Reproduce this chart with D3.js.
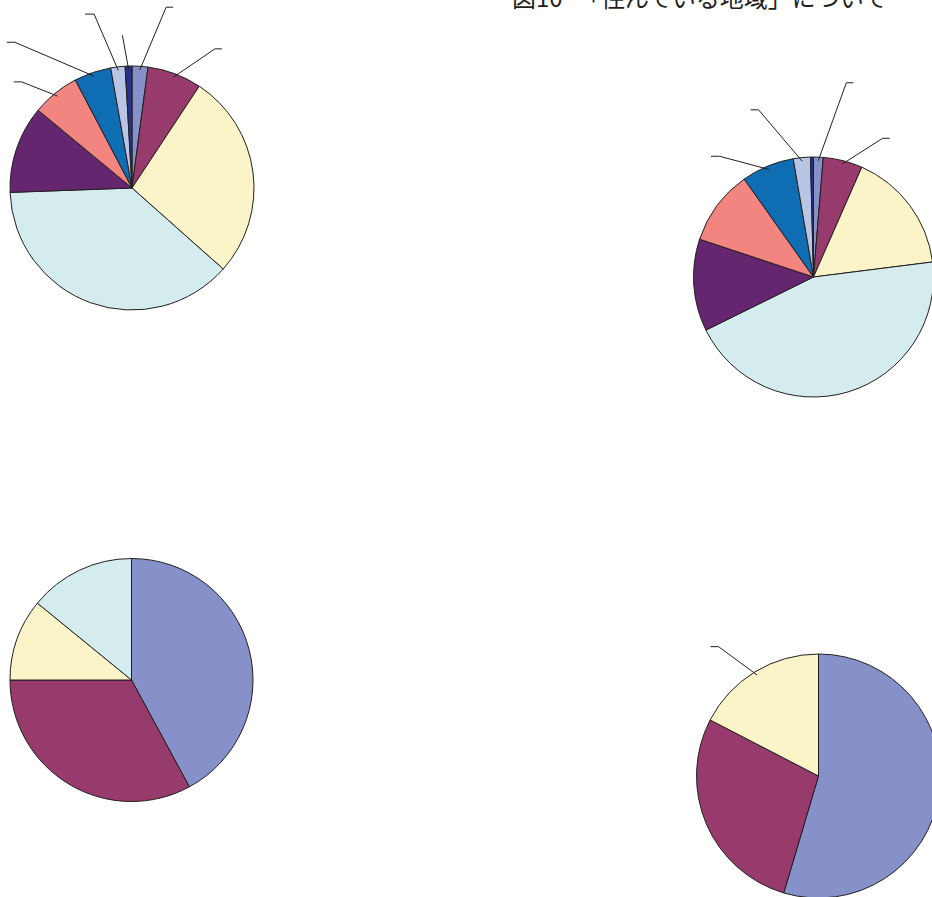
<!DOCTYPE html>
<html>
<head>
<meta charset="utf-8">
<script src="https://cdn.jsdelivr.net/npm/d3@7"></script>
<style>
  html, body { margin: 0; padding: 0; background: #fff; }
  svg { display: block; }
</style>
</head>
<body>
<svg id="chart" width="932" height="897"></svg>
<script>
// values are percentages (slice labels are not shown in it)
const titleNumber = "図10"
const titleMain = "「住んでいる地域」について"

const colors = ["#8591c8", "#963b6c", "#fbf4c8", "#d4ecee", "#64266e", "#f38580", "#0f6db4", "#bac4e4", "#25328a"]

const categoriesTop = ["c1", "c2", "c3", "c4", "c5", "c6", "c7", "c8", "c9"]
const valuesTopLeft = [2.1, 7.2, 27.3, 37.9, 11.6, 6.3, 4.9, 1.9, 0.9]
const valuesTopRight = [1.3, 5.3, 16.4, 44.7, 12.4, 10.1, 7.1, 2.3, 0.4]

const categoriesBottomLeft = ["c1", "c2", "c3", "c4"]
const valuesBottomLeft = [42.1, 32.9, 10.9, 14.1]

const categoriesBottomRight = ["c1", "c2", "c3"]
const valuesBottomRight = [54.6, 28.0, 17.4]

// layout of each pie: centre, radius, and leader lines (slice index, elbow polar pos, tail)
const pies = [
  { cats: categoriesTop, vals: valuesTopLeft, cx: 132, cy: 188, r: 122,
    leaders: [
      { i: 0, ang: 10.7, rad: 184, tail: 7 },
      { i: 1, ang: 30.8, rad: 162, tail: 7 },
      { i: 8, ang: -3.6, rad: 153, tail: 0 },
      { i: 7, ang: -12.3, rad: 178, tail: -9 },
      { i: 6, ang: -38.8, rad: 187, tail: -8 },
      { i: 5, ang: -46.1, rad: 153, tail: -8 }
    ] },
  { cats: categoriesTop, vals: valuesTopRight, cx: 813.5, cy: 277, r: 120,
    leaders: [
      { i: 0, ang: 9.6, rad: 197, tail: 7 },
      { i: 1, ang: 26.5, rad: 155, tail: 7 },
      { i: 7, ang: -18.2, rad: 176, tail: -8 },
      { i: 6, ang: -37.9, rad: 153, tail: -8.5 }
    ] },
  { cats: categoriesBottomLeft, vals: valuesBottomLeft, cx: 131.5, cy: 680, r: 121.5, leaders: [] },
  { cats: categoriesBottomRight, vals: valuesBottomRight, cx: 818.5, cy: 776, r: 122,
    leaders: [
      { i: 2, ang: -37.7, rad: 163.5, tail: -8 }
    ] }
]

const svg = d3.select("#chart")

const pie = d3.pie().sort(null).value(d => d.v)
const rad = Math.PI / 180

pies.forEach(p => {
  const data = p.cats.map((c, i) => ({ key: c, v: p.vals[i], color: colors[i] }))
  const arcs = pie(data)
  const arc = d3.arc().innerRadius(0).outerRadius(p.r)

  const g = svg.append("g").attr("transform", `translate(${p.cx},${p.cy})`)

  g.selectAll("path.slice")
    .data(arcs).enter()
    .append("path")
    .attr("class", "slice")
    .attr("d", arc)
    .attr("fill", d => d.data.color)
    .attr("stroke", "#231f20")
    .attr("stroke-width", 1)
    .attr("stroke-linejoin", "round")

  // leader lines (their labels are outside the visible crop)
  p.leaders.forEach(l => {
    const a = arcs[l.i]
    const mid = (a.startAngle + a.endAngle) / 2
    const r0 = p.r * 0.97
    const x0 = Math.sin(mid) * r0, y0 = -Math.cos(mid) * r0
    const x1 = Math.sin(l.ang * rad) * l.rad, y1 = -Math.cos(l.ang * rad) * l.rad
    g.append("path")
      .attr("d", d3.line()([[x0, y0], [x1, y1], [x1 + l.tail, y1]]))
      .attr("fill", "none")
      .attr("stroke", "#231f20")
      .attr("stroke-width", 1)
  })
})

// title, clipped at the top edge like the reference
const title = svg.append("text")
  .attr("y", 6.5)
  .attr("font-family", "'Noto Sans CJK JP', 'Noto Sans', sans-serif")
  .attr("font-size", 24)
  .attr("fill", "#231f20")
title.append("tspan").attr("x", 512).text(titleNumber)
title.append("tspan").attr("x", 577).text(titleMain)
</script>
</body>
</html>
